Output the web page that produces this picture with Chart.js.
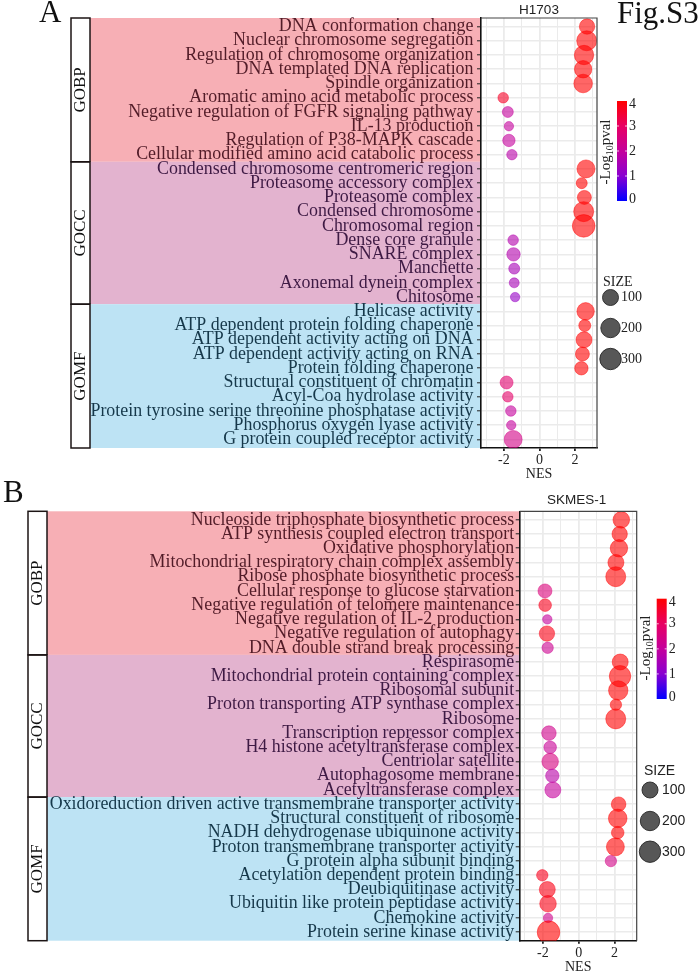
<!DOCTYPE html>
<html>
<head>
<meta charset="utf-8">
<title>Fig.S3</title>
<script src="https://cdn.jsdelivr.net/npm/chart.js@4/dist/chart.umd.min.js"></script>
<style>
  html, body { margin: 0; padding: 0; background: #fff; }
  canvas { position: absolute; left: 0; }
  #chartA { top: 0; }
  #chartB { top: 480px; }
</style>
</head>
<body>
<canvas id="chartA" width="700" height="480"></canvas>
<canvas id="chartB" width="700" height="493"></canvas>
<script>
const groupNames = ['GOBP', 'GOCC', 'GOMF'];
const nesTicks = [-3, -2, -1, 0, 1, 2, 3];
const colorbarTicks = [0, 1, 2, 3, 4];
const sizeLegend = [100, 200, 300];

const termsA = [
  'DNA conformation change', 'Nuclear chromosome segregation', 'Regulation of chromosome organization',
  'DNA templated DNA replication', 'Spindle organization', 'Aromatic amino acid metabolic process',
  'Negative regulation of FGFR signaling pathway', 'IL-13 production', 'Regulation of P38-MAPK cascade',
  'Cellular modified amino acid catabolic process',
  'Condensed chromosome centromeric region', 'Proteasome accessory complex', 'Proteasome complex',
  'Condensed chromosome', 'Chromosomal region', 'Dense core granule', 'SNARE complex', 'Manchette',
  'Axonemal dynein complex', 'Chitosome',
  'Helicase activity', 'ATP dependent protein folding chaperone', 'ATP dependent activity acting on DNA',
  'ATP dependent activity acting on RNA', 'Protein folding chaperone', 'Structural constituent of chromatin',
  'Acyl-Coa hydrolase activity', 'Protein tyrosine serine threonine phosphatase activity',
  'Phosphorus oxygen lyase activity', 'G protein coupled receptor activity'
];
const nesA = [2.68, 2.66, 2.51, 2.46, 2.46, -2.04, -1.78, -1.72, -1.72, -1.55,
  2.62, 2.38, 2.53, 2.49, 2.49, -1.48, -1.46, -1.42, -1.42, -1.37,
  2.6, 2.55, 2.51, 2.42, 2.36, -1.85, -1.78, -1.61, -1.59, -1.48];
const sizeA = [88, 226, 200, 133, 170, 33, 36, 26, 48, 32,
  150, 36, 66, 226, 384, 33, 59, 36, 29, 26,
  133, 44, 100, 66, 59, 54, 33, 33, 26, 150];
const logpA = [4, 4, 4, 4, 4, 3.6, 2, 2, 2, 1.8,
  4, 4, 4, 4, 4, 1.7, 1.7, 1.5, 1.5, 1.2,
  4, 4, 4, 4, 4, 2.8, 2.9, 2, 2, 2.4];

const termsB = [
  'Nucleoside triphosphate biosynthetic process', 'ATP synthesis coupled electron transport',
  'Oxidative phosphorylation', 'Mitochondrial respiratory chain complex assembly',
  'Ribose phosphate biosynthetic process', 'Cellular response to glucose starvation',
  'Negative regulation of telomere maintenance', 'Negative regulation of IL-2 production',
  'Negative regulation of autophagy', 'DNA double strand break processing',
  'Respirasome', 'Mitochondrial protein containing complex', 'Ribosomal subunit',
  'Proton transporting ATP synthase complex', 'Ribosome', 'Transcription repressor complex',
  'H4 histone acetyltransferase complex', 'Centriolar satellite', 'Autophagosome membrane',
  'Acetyltransferase complex',
  'Oxidoreduction driven active transmembrane transporter activity', 'Structural constituent of ribosome',
  'NADH dehydrogenase ubiquinone activity', 'Proton transmembrane transporter activity',
  'G protein alpha subunit binding', 'Acetylation dependent protein binding', 'Deubiquitinase activity',
  'Ubiquitin like protein peptidase activity', 'Chemokine activity', 'Protein serine kinase activity'
];
const nesB = [2.38, 2.29, 2.25, 2.08, 2.07, -1.88, -1.87, -1.75, -1.77, -1.73,
  2.32, 2.31, 2.21, 2.08, 2.07, -1.66, -1.59, -1.59, -1.47, -1.44,
  2.23, 2.18, 2.18, 2.05, 1.8, -2.03, -1.75, -1.71, -1.71, -1.68];
const sizeB = [113, 88, 133, 100, 226, 66, 50, 26, 88, 39,
  100, 300, 200, 39, 226, 75, 50, 113, 59, 100,
  75, 170, 50, 150, 39, 39, 100, 113, 26, 384];
const logpB = [4, 4, 4, 4, 4, 2.6, 3.7, 2, 3.8, 2.2,
  4, 4, 4, 4, 4, 2.3, 2.1, 2.5, 1.8, 2,
  4, 4, 4, 4, 2.4, 3.7, 3.8, 3.8, 2.3, 4];

const gradientStops = ['#0000ff', '#8a00d0', '#c4009c', '#e80062', '#ff0000'];
const bandColors = ['#f7afb5', '#e3b3cf', '#bde3f4'];
const labelColors = ['#521c28', '#3e1a44', '#16384a'];
const SERIF = '"Liberation Serif"';
const SANS = '"Liberation Sans"';

function hexToRgb(hex) {
  return [1, 3, 5].map(i => parseInt(hex.slice(i, i + 2), 16));
}

// blue -> red colour scale of -log10 pval
function pvalColor(v, alpha) {
  const t = Math.min(3.999, Math.max(0, v));
  const i = Math.floor(t);
  const a = hexToRgb(gradientStops[i]);
  const b = hexToRgb(gradientStops[i + 1]);
  const c = a.map((n, k) => Math.round(n + (b[k] - n) * (t - i)));
  return `rgba(${c[0]},${c[1]},${c[2]},${alpha})`;
}

function sizeToRadius(size) {
  return 8 + 1.7 * Math.log2(size / 100);
}

function drawText(ctx, text, x, y, font, color, align) {
  ctx.font = font;
  ctx.fillStyle = color || '#1a1a1a';
  ctx.textAlign = align || 'left';
  ctx.textBaseline = 'middle';
  ctx.fillText(text, x, y);
}

// bands and group strips sit behind the grid
const bandsPlugin = {
  id: 'bands',
  beforeDraw(chart, args, opts) {
    const { ctx, chartArea, scales } = chart;
    const edges = [-0.6, 9.5, 19.5, 29.6].map(v => scales.y.getPixelForValue(v));
    ctx.save();
    ctx.fillStyle = '#fff';
    ctx.fillRect(chartArea.left, chartArea.top, chartArea.width, chartArea.height);
    groupNames.forEach((name, i) => {
      const top = edges[i], bottom = edges[i + 1];
      ctx.fillStyle = bandColors[i];
      ctx.fillRect(opts.stripRight, top, chartArea.left - opts.stripRight, bottom - top);
      ctx.strokeStyle = '#1c1414';
      ctx.lineWidth = 1.5;
      ctx.strokeRect(opts.stripLeft, top, opts.stripRight - opts.stripLeft, bottom - top);
      ctx.save();
      ctx.translate((opts.stripLeft + opts.stripRight) / 2 + 0.5, (top + bottom) / 2);
      ctx.rotate(-Math.PI / 2);
      drawText(ctx, name, 0, 0, `17px ${SERIF}`, '#111', 'center');
      ctx.restore();
    });
    ctx.restore();
  },
  afterDraw(chart, args, opts) {
    const { ctx, chartArea } = chart;
    ctx.save();
    // top and right of the panel border
    ctx.strokeStyle = '#444';
    ctx.lineWidth = 1.2;
    ctx.beginPath();
    ctx.moveTo(chartArea.left, chartArea.top);
    ctx.lineTo(chartArea.right, chartArea.top);
    ctx.lineTo(chartArea.right, chartArea.bottom);
    ctx.stroke();

    drawText(ctx, opts.title, (chartArea.left + chartArea.right) / 2 + opts.titleDx, opts.titleY, `13.5px ${SANS}`, '#222', 'center');
    drawText(ctx, opts.letter, opts.letterX, opts.letterY, `31px ${SERIF}`, '#111');
    if (opts.figLabel) drawText(ctx, opts.figLabel, 617, 15, `31px ${SERIF}`, '#111');

    // colour bar
    const cb = opts.colorbar;
    const grad = ctx.createLinearGradient(0, cb.bottom, 0, cb.top);
    gradientStops.forEach((c, i) => grad.addColorStop(i / 4, c));
    ctx.fillStyle = grad;
    ctx.fillRect(cb.left, cb.top, 10, cb.bottom - cb.top);
    colorbarTicks.forEach(v => {
      const y = cb.bottom - (cb.bottom - cb.top) * v / 4;
      if (v > 0 && v < 4) {
        ctx.fillStyle = 'rgba(255,255,255,0.75)';
        ctx.fillRect(cb.left, y - 0.5, 2, 1);
        ctx.fillRect(cb.left + 8, y - 0.5, 2, 1);
      }
      const labelY = v === 4 ? y + 3.5 : v === 0 ? y - 2 : y;
      drawText(ctx, String(v), cb.left + 12, labelY, `14px ${SERIF}`, '#222');
    });
    ctx.save();
    ctx.translate(cb.titleX, cb.titleY);
    ctx.rotate(-Math.PI / 2);
    ctx.font = `15px ${SERIF}`;
    const w1 = ctx.measureText('-Log').width;
    const w3 = ctx.measureText('pval').width;
    ctx.font = `10px ${SERIF}`;
    const w2 = ctx.measureText('10').width;
    const start = -(w1 + w2 + w3) / 2;
    drawText(ctx, '-Log', start, 0, `15px ${SERIF}`, '#222');
    drawText(ctx, '10', start + w1, 4, `10px ${SERIF}`, '#222');
    drawText(ctx, 'pval', start + w1 + w2, 0, `15px ${SERIF}`, '#222');
    ctx.restore();

    // size legend
    const sl = opts.sizeLegend;
    const font = `${sl.fontSize}px ${sl.font}`;
    drawText(ctx, 'SIZE', sl.titleX, sl.titleY, font, '#222');
    sizeLegend.forEach((s, i) => {
      ctx.beginPath();
      ctx.arc(sl.x, sl.ys[i], sizeToRadius(s), 0, Math.PI * 2);
      ctx.fillStyle = 'rgba(40,40,40,0.78)';
      ctx.fill();
      ctx.strokeStyle = 'rgba(40,40,40,0.9)';
      ctx.lineWidth = 1;
      ctx.stroke();
      drawText(ctx, String(s), sl.labelX, sl.ys[i], font, '#222');
    });
    ctx.restore();
  }
};

function makePanel(id, terms, nes, sizes, logp, box, extras) {
  const canvas = document.getElementById(id);
  const points = terms.map((t, i) => ({ x: nes[i], y: i, r: sizeToRadius(sizes[i]), logp: logp[i] }));
  return new Chart(canvas.getContext('2d'), {
    type: 'bubble',
    data: {
      datasets: [{
        data: points,
        backgroundColor: c => pvalColor(c.raw.logp, 0.6),
        borderColor: c => pvalColor(c.raw.logp, 0.45),
        borderWidth: 1
      }]
    },
    plugins: [bandsPlugin],
    options: {
      responsive: false,
      animation: false,
      events: [],
      layout: { padding: { top: box.top, right: canvas.width - box.right, left: 0, bottom: 0 } },
      plugins: {
        legend: { display: false },
        tooltip: { enabled: false },
        bands: extras
      },
      scales: {
        x: {
          type: 'linear',
          min: -3.29,
          max: 3.24,
          afterBuildTicks: s => { s.ticks = nesTicks.map(v => ({ value: v })); },
          afterFit: s => { s.height = canvas.height - box.bottom; },
          ticks: {
            autoSkip: false,
            maxRotation: 0,
            padding: 1,
            color: '#222',
            font: { family: SERIF, size: 14 },
            callback: v => (v % 2 === 0 ? String(v) : '')
          },
          grid: {
            color: '#ebebeb',
            lineWidth: c => (c.tick && c.tick.value % 2 === 0 ? 1.8 : 1),
            tickLength: 3,
            tickColor: c => (c.tick && c.tick.value % 2 === 0 ? '#222' : 'rgba(0,0,0,0)')
          },
          border: { color: '#111', width: 1.6 },
          title: {
            display: true,
            text: 'NES',
            color: '#222',
            font: { family: SERIF, size: 14 },
            padding: { top: 0, bottom: -3 }
          }
        },
        y: {
          type: 'linear',
          reverse: true,
          min: -0.6,
          max: 29.6,
          afterBuildTicks: s => { s.ticks = terms.map((t, i) => ({ value: i })); },
          afterFit: s => { s.width = box.left; },
          ticks: {
            autoSkip: false,
            padding: box.labelPad,
            color: c => labelColors[Math.floor(c.tick.value / 10)],
            font: { family: SERIF, size: 17.9 },
            callback: v => terms[v]
          },
          grid: {
            color: '#ebebeb',
            lineWidth: 1.6,
            tickLength: 4,
            tickColor: '#222',
            tickWidth: 1
          },
          border: { color: '#111', width: 1.6 }
        }
      }
    }
  });
}

makePanel('chartA', termsA, nesA, sizeA, logpA,
  { left: 481, right: 597, top: 18, bottom: 448, labelPad: 3.5 },
  {
    title: 'H1703', titleDx: 0, titleY: 10,
    letter: 'A', letterX: 39, letterY: 14, figLabel: 'Fig.S3',
    stripLeft: 71, stripRight: 90,
    colorbar: { left: 617, top: 101, bottom: 201, titleX: 606, titleY: 152 },
    sizeLegend: { x: 610.5, ys: [297.5, 328, 359], labelX: 621, titleX: 603, titleY: 282, font: SERIF, fontSize: 14 }
  });

makePanel('chartB', termsB, nesB, sizeB, logpB,
  { left: 519.7, right: 636.7, top: 31.3, bottom: 460.7, labelPad: 1.5 },
  {
    title: 'SKMES-1', titleDx: -1.5, titleY: 20,
    letter: 'B', letterX: 3, letterY: 14,
    stripLeft: 28, stripRight: 47,
    colorbar: { left: 656.7, top: 118.7, bottom: 219, titleX: 646, titleY: 168 },
    sizeLegend: { x: 650, ys: [310, 341, 371.7], labelX: 662, titleX: 644, titleY: 290.7, font: SANS, fontSize: 14 }
  });
</script>
</body>
</html>
